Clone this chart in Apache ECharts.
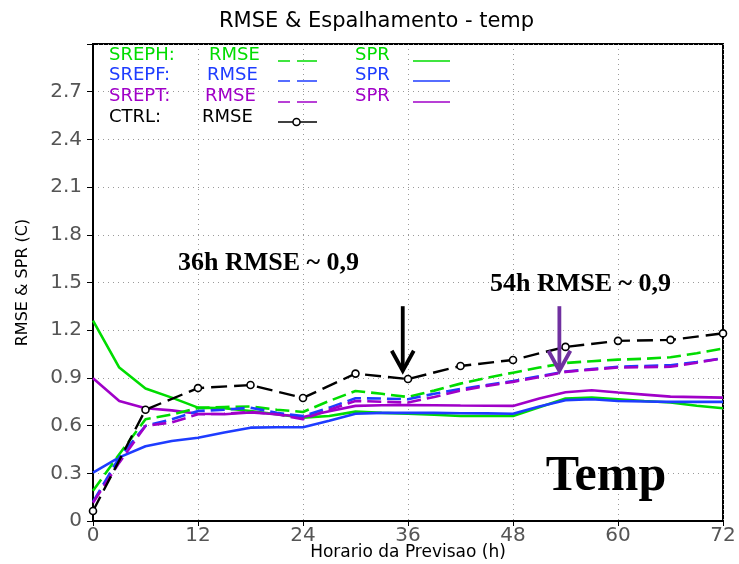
<!DOCTYPE html>
<html><head><meta charset="utf-8">
<script src="https://cdn.jsdelivr.net/npm/echarts@6/dist/echarts.min.js"></script>
<style>html,body{margin:0;padding:0;background:#fff}#c{width:739px;height:564px}</style>
</head><body><div id="c"></div>
<script>
// ---- data ----
const hours = [0,3,6,9,12,15,18,21,24,27,30,33,36,39,42,45,48,51,54,57,60,63,66,69,72];
const ctrlHours = [0,6,12,18,24,30,36,42,48,54,60,66,72];
const ctrlRmse  = [0.063,0.70,0.836,0.855,0.774,0.927,0.893,0.975,1.013,1.095,1.133,1.139,1.18];
const srephRmse = [0.19,0.42,0.64,0.67,0.71,0.717,0.72,0.70,0.686,0.755,0.818,0.80,0.78,0.82,0.864,0.90,0.933,0.965,0.994,1.005,1.015,1.02,1.03,1.055,1.085];
const srephSpr  = [1.26,0.965,0.833,0.776,0.713,0.709,0.692,0.671,0.65,0.66,0.688,0.68,0.675,0.668,0.66,0.66,0.66,0.715,0.77,0.776,0.766,0.755,0.745,0.725,0.709];
const srepfRmse = [0.12,0.40,0.598,0.64,0.692,0.70,0.713,0.68,0.66,0.713,0.772,0.77,0.766,0.80,0.83,0.855,0.88,0.91,0.94,0.955,0.97,0.975,0.98,1.0,1.024];
const srepfSpr  = [0.304,0.40,0.47,0.503,0.524,0.556,0.587,0.59,0.59,0.63,0.675,0.68,0.68,0.68,0.678,0.677,0.675,0.72,0.76,0.766,0.755,0.752,0.749,0.749,0.749];
const sreptRmse = [0.115,0.367,0.598,0.62,0.671,0.675,0.686,0.671,0.64,0.70,0.755,0.75,0.745,0.78,0.82,0.85,0.875,0.905,0.938,0.952,0.965,0.968,0.97,0.995,1.024];
const sreptSpr  = [0.898,0.755,0.709,0.696,0.675,0.671,0.682,0.671,0.654,0.69,0.724,0.728,0.73,0.728,0.726,0.725,0.724,0.77,0.81,0.822,0.808,0.795,0.782,0.779,0.776];
const xTicks = [0,12,24,36,48,60,72];
const yTicks = [0,0.3,0.6,0.9,1.2,1.5,1.8,2.1,2.4,2.7];
const arrows = [ {x:35.4, y0:1.351, y1:0.945, color:'#000000'}, {x:53.3, y0:1.351, y1:0.945, color:'#7030A0'} ];

// ---- styles ----
const GREEN = '#00dc00', BLUE = '#1e3cff', PURPLE = '#a000c8';
const AX_FONT = '"DejaVu Sans",sans-serif';
const pair = (xs, ys) => xs.map((x,i)=>[x, ys[i]]);

const chart = echarts.init(document.getElementById('c'), null, {renderer:'canvas'});
function lineS(name, data, color, dashed){
  return {name, type:'line', data: pair(hours, data), showSymbol:false, symbol:'none',
    lineStyle:{color, width:2.6, type: dashed ? [14,6] : 'solid'}, itemStyle:{color}, z:2};
}
const option = {
  animation:false,
  backgroundColor:'#fff',
  title:{text:'RMSE & Espalhamento - temp', left:214, top:6,
    textStyle:{fontFamily:'"DejaVu Sans",sans-serif', fontSize:21, fontWeight:'normal', color:'#000'}},
  grid:{left:93, right:16, top:44, bottom:43, containLabel:false, outerBoundsMode:'none',
    show:true, borderColor:'#000', borderWidth:2, backgroundColor:'transparent'},
  xAxis:{type:'value', min:0, max:72, interval:12,
    name:'Horario da Previsao (h)', nameLocation:'middle', nameGap:23, nameMoveOverlap:false,
    nameTextStyle:{fontFamily:'"DejaVu Sans",sans-serif', fontSize:17, color:'#000'},
    axisLine:{show:true, lineStyle:{color:'#000', width:2}},
    axisTick:{show:true, inside:false, length:5, lineStyle:{color:'#000'}},
    axisLabel:{fontFamily:AX_FONT, fontSize:20, color:'#555', margin:5,
      formatter:v => xTicks.includes(v) ? String(v) : ''},
    splitLine:{show:true, lineStyle:{color:'#9a9a9a', width:1, type:[1,4]}}},
  yAxis:{type:'value', min:0, max:3, interval:0.3,
    name:'RMSE & SPR (C)', nameLocation:'middle', nameGap:62, nameMoveOverlap:false,
    nameTextStyle:{fontFamily:'"DejaVu Sans",sans-serif', fontSize:16, color:'#000'},
    axisLine:{show:true, lineStyle:{color:'#000', width:2}},
    axisTick:{show:true, inside:false, length:6, lineStyle:{color:'#000'}},
    axisLabel:{fontFamily:AX_FONT, fontSize:20, color:'#555', margin:11,
      formatter:v => { const t = yTicks.find(k=>Math.abs(k-v)<1e-6); return t===undefined ? '' : (t===0?'0':t.toFixed(1)); }},
    splitLine:{show:true, lineStyle:{color:'#9a9a9a', width:1, type:[1,4]}}},
  series:[
    lineS('SREPH SPR', srephSpr, GREEN, false),
    lineS('SREPF SPR', srepfSpr, BLUE, false),
    lineS('SREPT SPR', sreptSpr, PURPLE, false),
    lineS('SREPH RMSE', srephRmse, GREEN, true),
    lineS('SREPF RMSE', srepfRmse, BLUE, true),
    lineS('SREPT RMSE', sreptRmse, PURPLE, true),
    {name:'CTRL RMSE', type:'line', data: pair(ctrlHours, ctrlRmse), symbol:'circle', symbolSize:7, showSymbol:true,
     lineStyle:{color:'#000', width:2.4, type:[16,7]},
     itemStyle:{color:'#fff', borderColor:'#000', borderWidth:1.6}, z:3}
  ]
};
chart.setOption(option);

// ---- legend, annotations, arrows ----
const LEG_FONT = '"DejaVu Sans",sans-serif';
const g = [];
function txt(x, y, s, color, font, size, weight, align){
  g.push({type:'text', x, y, z:10, style:{text:s, fill:color, font:`${weight||'normal'} ${size}px ${font}`,
    textAlign:align||'left', textVerticalAlign:'middle'}});
}
function seg(x1,y1,x2,y2,color,w){
  g.push({type:'line', z:10, shape:{x1,y1,x2,y2}, style:{stroke:color, lineWidth:w||1.5}});
}
const rows = [
  {lab:'SREPH:', color:GREEN, y:55, rx:209},
  {lab:'SREPF:', color:BLUE,  y:75, rx:207},
  {lab:'SREPT:', color:PURPLE, y:96, rx:205}
];
rows.forEach(r=>{
  txt(109, r.y, r.lab, r.color, LEG_FONT, 18);
  txt(r.rx, r.y, 'RMSE', r.color, LEG_FONT, 18);
  seg(278, r.y+6, 290, r.y+6, r.color, 1.5);
  seg(297, r.y+6, 317, r.y+6, r.color, 1.5);
  txt(355, r.y, 'SPR', r.color, LEG_FONT, 18);
  seg(413, r.y+6, 450, r.y+6, r.color, 1.5);
});
txt(109, 117, 'CTRL:', '#000', LEG_FONT, 18);
txt(202, 117, 'RMSE', '#000', LEG_FONT, 18);
seg(278, 122, 293, 122, '#000', 1.5);
seg(300, 122, 317, 122, '#000', 1.5);
g.push({type:'circle', z:11, shape:{cx:296.5, cy:122, r:3.5}, style:{fill:'#fff', stroke:'#000', lineWidth:1.5}});

const SERIF = '"Liberation Serif","DejaVu Serif",serif';
txt(178, 263, '36h RMSE ~ 0,9', '#000', SERIF, 26, 'bold');
txt(490, 284, '54h RMSE ~ 0,9', '#000', SERIF, 26, 'bold');
txt(606, 477, 'Temp', '#000', SERIF, 50, 'bold', 'center');

arrows.forEach(a=>{
  const p0 = chart.convertToPixel({gridIndex:0}, [a.x, a.y0]);
  const p1 = chart.convertToPixel({gridIndex:0}, [a.x, a.y1]);
  g.push({type:'line', z:12, shape:{x1:p0[0], y1:p0[1], x2:p1[0], y2:p1[1]-2}, style:{stroke:a.color, lineWidth:3.8}});
  g.push({type:'polyline', z:12, shape:{points:[[p1[0]-11, p1[1]-20],[p1[0], p1[1]],[p1[0]+11, p1[1]-20]]},
    style:{stroke:a.color, lineWidth:3.8, fill:null, lineJoin:'miter'}});
});
chart.setOption({graphic: g});
</script></body></html>
